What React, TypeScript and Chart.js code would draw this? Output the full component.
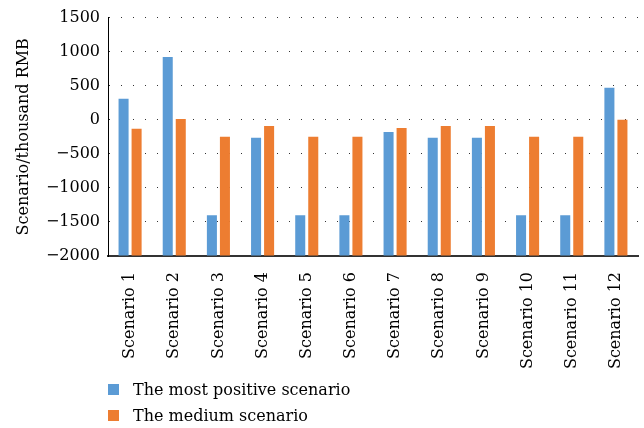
import React, { useEffect, useRef } from 'react';
import { Chart, registerables } from 'chart.js';

Chart.register(...registerables);

const categories = [
  'Scenario 1', 'Scenario 2', 'Scenario 3', 'Scenario 4', 'Scenario 5', 'Scenario 6',
  'Scenario 7', 'Scenario 8', 'Scenario 9', 'Scenario 10', 'Scenario 11', 'Scenario 12',
];
const mostPositive = [310, 920, -1400, -265, -1400, -1400, -180, -265, -265, -1400, -1400, 470];
const medium = [-130, 10, -250, -90, -250, -250, -120, -90, -90, -250, -250, 0];
const yTickValues = [-2000, -1500, -1000, -500, 0, 500, 1000, 1500];
const seriesNames = ['The most positive scenario', 'The medium scenario'];
const seriesColors = ['#5B9BD5', '#ED7D31'];
const yTitle = 'Scenario/thousand RMB';

const FONT = "'DejaVu Serif', serif";

export default function App() {
  const ref = useRef<HTMLCanvasElement>(null);

  useEffect(() => {
    if (!ref.current) return;
    const chart = new Chart(ref.current, {
      type: 'bar',
      data: {
        labels: categories,
        datasets: [mostPositive, medium].map((d, i) => ({
          label: seriesNames[i],
          data: d,
          backgroundColor: seriesColors[i],
          borderWidth: 0,
          base: yTickValues[0],
          barPercentage: 0.77,
          categoryPercentage: 0.59,
        })),
      },
      options: {
        animation: false,
        responsive: true,
        maintainAspectRatio: false,
        layout: { padding: { top: 14, right: 6, left: 0, bottom: 0 } },
        plugins: {
          legend: { display: false },
          tooltip: { enabled: false },
        },
        scales: {
          x: {
            grid: { display: false },
            border: { display: true, color: '#333', width: 2 },
            ticks: {
              autoSkip: false,
              minRotation: 90,
              maxRotation: 90,
              padding: 8,
              color: '#000',
              font: { family: FONT, size: 16 },
            },
            afterFit: (s: any) => { s.height = 122; },
          },
          y: {
            min: yTickValues[0],
            max: yTickValues[yTickValues.length - 1],
            afterBuildTicks: (s: any) => { s.ticks = yTickValues.map((v) => ({ value: v })); },
            grid: { color: '#333', lineWidth: 1, drawTicks: false },
            border: { display: true, color: '#000', width: 1, dash: [1, 11] },
            ticks: {
              padding: 8,
              color: '#000',
              font: { family: FONT, size: 16 },
              callback: (v: any) => (v < 0 ? '\u2212' + Math.abs(v) : String(v)),
            },
            title: {
              display: true,
              text: yTitle,
              color: '#000',
              font: { family: FONT, size: 16 },
              padding: { top: 14, bottom: 0 },
            },
            afterFit: (s: any) => { s.width = 108; },
          },
        },
      },
    });
    return () => chart.destroy();
  }, []);

  return (
    <div>
      <div style={{ position: 'absolute', left: 0, top: 0, width: 644, height: 378 }}>
        <canvas ref={ref} />
      </div>
      <div style={{ position: 'absolute', left: 108, top: 376, fontFamily: FONT, fontSize: 16, color: '#000' }}>
        {seriesNames.map((n, i) => (
          <div key={n} style={{ display: 'flex', alignItems: 'center', height: 26 }}>
            <span style={{ display: 'inline-block', width: 11, height: 11, background: seriesColors[i], marginRight: 14 }} />
            <span>{n}</span>
          </div>
        ))}
      </div>
    </div>
  );
}
